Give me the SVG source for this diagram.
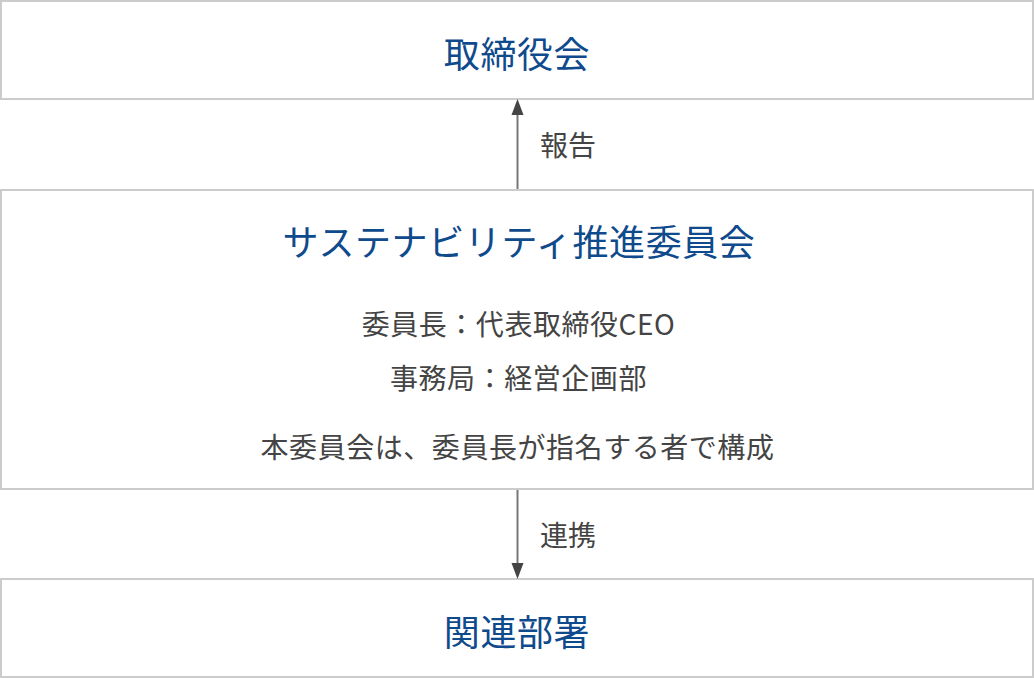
<svg xmlns="http://www.w3.org/2000/svg" width="1034" height="678" viewBox="0 0 1034 678">
<style>
.box{fill:#fff;stroke:#cccccc;stroke-width:2}
.title{font-family:"Noto Sans CJK JP","Noto Sans",sans-serif;font-size:36px;fill:#0f4a8c;text-anchor:middle;letter-spacing:0.6px}
.txt{font-family:"Noto Sans CJK JP","Noto Sans",sans-serif;font-size:28px;fill:#444;text-anchor:middle;letter-spacing:0.55px}
.lbl{font-family:"Noto Sans CJK JP","Noto Sans",sans-serif;font-size:28px;fill:#444}
.conn{stroke:#777;stroke-width:2;fill:none}
.head{fill:#444}
</style>
<rect width="1034" height="678" fill="#fff"/>
<g id="board">
<rect class="box" x="1" y="1" width="1032" height="98"/>
<text class="title" x="517" y="68">取締役会</text>
</g>
<g id="committee">
<rect class="box" x="1" y="190" width="1032" height="299"/>
<text class="title" x="519" y="256">サステナビリティ推進委員会</text>
<text class="txt" x="518.5" y="335">委員長：代表取締役CEO</text>
<text class="txt" x="518.5" y="389">事務局：経営企画部</text>
<text class="txt" x="517.5" y="458">本委員会は、委員長が指名する者で構成</text>
</g>
<g id="departments">
<rect class="box" x="1" y="579" width="1032" height="98"/>
<text class="title" x="517" y="646">関連部署</text>
</g>
<g id="connectors">
<line class="conn" x1="517.5" y1="189" x2="517.5" y2="112"/>
<polygon class="head" points="517.5,99 523.5,115 511.5,115"/>
<text class="lbl" x="540" y="156">報告</text>
<line class="conn" x1="517.5" y1="490" x2="517.5" y2="566"/>
<polygon class="head" points="517.5,579 523.5,563 511.5,563"/>
<text class="lbl" x="540" y="546">連携</text>
</g>
</svg>
